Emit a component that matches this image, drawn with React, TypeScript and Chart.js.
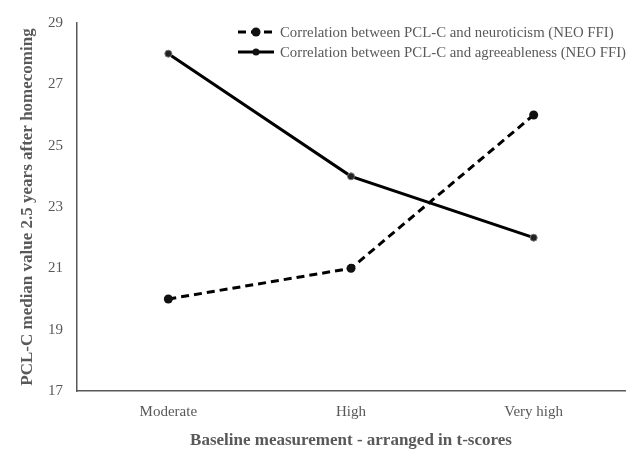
import { useEffect, useRef } from 'react';
import { Chart, registerables } from 'chart.js';

Chart.register(...registerables);

const categories = ['Moderate', 'High', 'Very high'];
const neuroticism = [20, 21, 26];
const agreeableness = [28, 24, 22];
const seriesLabels = [
  'Correlation between PCL-C and neuroticism (NEO FFI)',
  'Correlation between PCL-C and agreeableness (NEO FFI)',
];

const GRAY = '#595959';
const SERIF = '"Liberation Serif", "Times New Roman", serif';

// legend drawn inside the plot area, top right
const insideLegend = {
  id: 'insideLegend',
  afterDraw(chart: Chart) {
    const { ctx } = chart;
    ctx.save();
    ctx.font = `14.8px ${SERIF}`;
    ctx.textBaseline = 'middle';
    chart.data.datasets.forEach((ds: any, i: number) => {
      const y = 32 + i * 20;
      const x0 = 238;
      const x1 = 274;
      ctx.strokeStyle = '#000';
      ctx.lineWidth = 3;
      ctx.setLineDash(ds.borderDash || []);
      ctx.beginPath();
      ctx.moveTo(x0, y);
      ctx.lineTo(x1, y);
      ctx.stroke();
      ctx.setLineDash([]);
      ctx.fillStyle = '#111';
      ctx.beginPath();
      ctx.arc((x0 + x1) / 2, y, ds.pointRadius, 0, Math.PI * 2);
      ctx.fill();
      ctx.fillStyle = GRAY;
      ctx.fillText(ds.label, 280, y + 1);
    });
    ctx.restore();
  },
};

export default function App() {
  const canvasRef = useRef<HTMLCanvasElement | null>(null);

  useEffect(() => {
    document.body.style.margin = '0';
    if (!canvasRef.current) return;
    const chart = new Chart(canvasRef.current, {
      type: 'line',
      data: {
        labels: categories,
        datasets: [
          {
            label: seriesLabels[0],
            data: neuroticism,
            borderColor: '#000',
            borderWidth: 3,
            borderDash: [8, 5],
            pointRadius: 4.5,
            pointBackgroundColor: '#111',
            pointBorderColor: '#111',
            pointBorderWidth: 0,
          },
          {
            label: seriesLabels[1],
            data: agreeableness,
            borderColor: '#000',
            borderWidth: 3,
            pointRadius: 3.5,
            pointBackgroundColor: '#222',
            pointBorderColor: '#777',
            pointBorderWidth: 1,
          },
        ],
      },
      options: {
        responsive: false,
        animation: false,
        layout: { padding: { top: 12, right: 15, bottom: 0, left: 0 } },
        plugins: {
          legend: { display: false },
          tooltip: { enabled: false },
        },
        scales: {
          x: {
            offset: true,
            grid: { display: false, drawTicks: false },
            border: { color: GRAY, width: 1.5 },
            ticks: { color: GRAY, font: { family: SERIF, size: 15 }, padding: 12 },
            title: {
              display: true,
              text: 'Baseline measurement - arranged in t-scores',
              color: GRAY,
              font: { family: SERIF, size: 17, weight: 'bold' },
              padding: { bottom: 12 },
            },
            afterFit: (s: any) => {
              s.height = 72;
            },
          },
          y: {
            min: 17,
            max: 29,
            grid: { display: false, drawTicks: false },
            border: { color: GRAY, width: 1.5 },
            ticks: { stepSize: 2, color: GRAY, font: { family: SERIF, size: 15 }, padding: 14 },
            title: {
              display: true,
              text: 'PCL-C median value 2.5 years after homecoming',
              color: GRAY,
              font: { family: SERIF, size: 17, weight: 'bold' },
              padding: { top: 17 },
            },
            afterFit: (s: any) => {
              s.width = 77;
            },
          },
        },
      },
      plugins: [insideLegend],
    });
    return () => chart.destroy();
  }, []);

  return <canvas ref={canvasRef} width={640} height={463} />;
}
